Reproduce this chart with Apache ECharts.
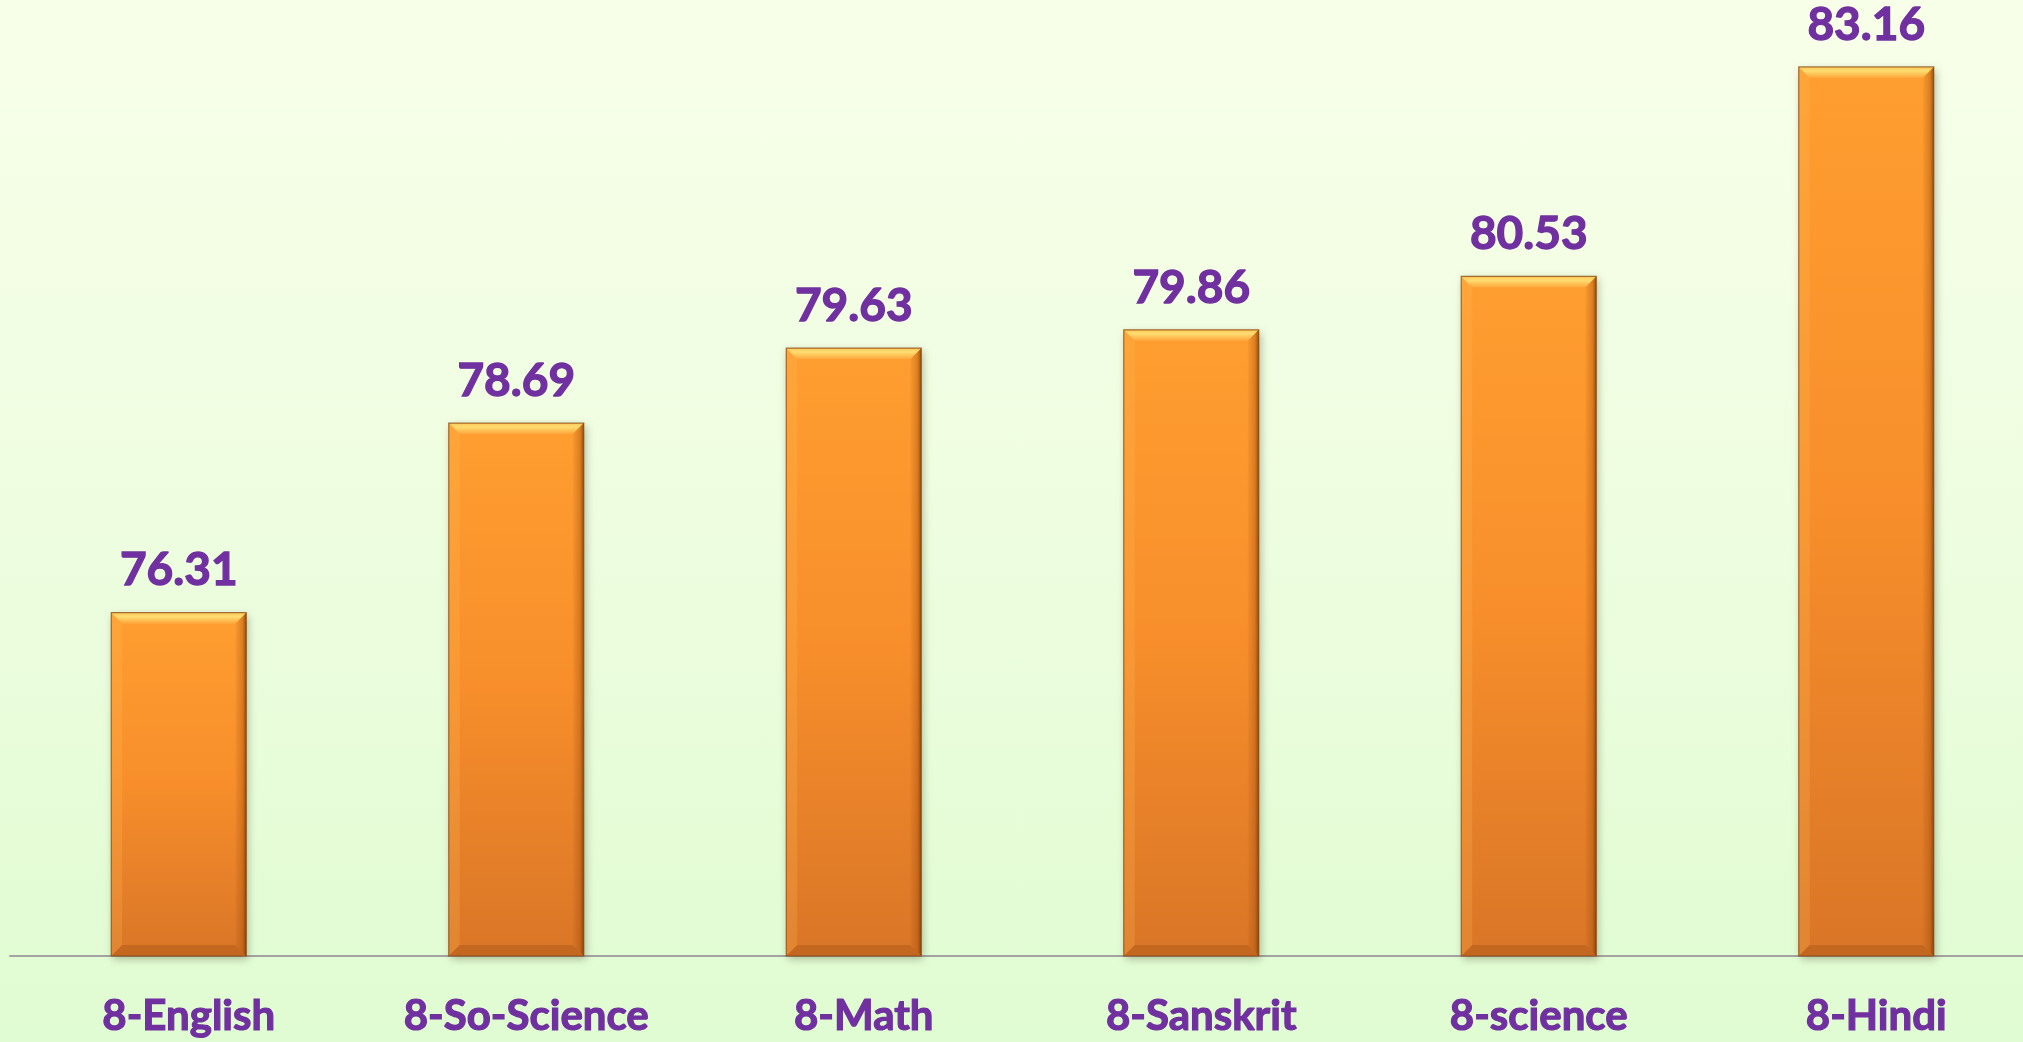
<!DOCTYPE html>
<html>
<head>
<meta charset="utf-8">
<script src="https://cdn.jsdelivr.net/npm/echarts@6/dist/echarts.min.js"></script>
<style>
html,body{margin:0;padding:0;width:2023px;height:1042px;overflow:hidden;
background:linear-gradient(to bottom,#F8FFE9 0%,#EEFDE0 50%,#E0FCD2 100%);}
#chart{width:2023px;height:1042px;}
</style>
</head>
<body>
<div id="chart"></div>
<script>
const categories = ['8-English', '8-So-Science', '8-Math', '8-Sanskrit', '8-science', '8-Hindi'];
const scores = [76.31, 78.69, 79.63, 79.86, 80.53, 83.16];
const yMin = 72;
const yMax = 84;

const chart = echarts.init(document.getElementById('chart'), null, {renderer: 'canvas'});
const purple = '#7030A0';
const font = 'Lato, "Open Sans", sans-serif';
const BAR_RATIO = 0.4;

function bevel(params, api) {
  const i = api.value(0);
  const top = api.coord([i, api.value(1)]);
  const base = api.coord([i, yMin]);
  const w = api.size([1, 0])[0] * BAR_RATIO;
  const x0 = top[0] - w / 2, x1 = top[0] + w / 2;
  const y0 = top[1], y1 = base[1];
  const b = 11;
  return {
    type: 'group',
    silent: true,
    children: [
      {type: 'polygon', shape: {points: [[x0, y0], [x1, y0], [x1 - b, y0 + b], [x0 + b, y0 + b]]},
        style: {fill: {type: 'linear', x: 0, y: 0, x2: 0, y2: 1, colorStops: [
          {offset: 0, color: '#FFC55A'}, {offset: 0.35, color: '#FFDD70'}, {offset: 1, color: '#FFA63C'}]}}},
      {type: 'polygon', shape: {points: [[x0, y0], [x0 + b, y0 + b], [x0 + b, y1 - b], [x0, y1]]},
        style: {fill: 'rgba(255,190,90,0.22)'}},
      {type: 'polygon', shape: {points: [[x1, y0], [x1 - b, y0 + b], [x1 - b, y1 - b], [x1, y1]]},
        style: {fill: {type: 'linear', x: 1, y: 0, x2: 0, y2: 0, colorStops: [
          {offset: 0, color: 'rgba(110,50,0,0.75)'}, {offset: 0.35, color: 'rgba(150,70,10,0.35)'}, {offset: 1, color: 'rgba(150,70,10,0.05)'}]}}},
      {type: 'polygon', shape: {points: [[x0, y1], [x0 + b, y1 - b], [x1 - b, y1 - b], [x1, y1]]},
        style: {fill: 'rgba(140,70,15,0.28)'}},
      {type: 'rect', shape: {x: x0, y: y0, width: w, height: y1 - y0},
        style: {fill: 'none', stroke: 'rgba(130,65,10,0.7)', lineWidth: 1.2}}
    ]
  };
}

chart.setOption({
  backgroundColor: 'transparent',
  animation: false,
  grid: {left: 10, width: 2025, top: 0, bottom: 86, containLabel: false, outerBoundsMode: 'none'},
  xAxis: {
    type: 'category',
    data: categories,
    axisLine: {show: true, lineStyle: {color: '#A3A3A3', width: 2}},
    axisTick: {show: false},
    axisLabel: {
      color: purple, fontFamily: font, fontWeight: 'bold', fontSize: 42,
      textBorderColor: purple, textBorderWidth: 1.2,
      margin: 39, padding: [0, 0, 0, 20]
    }
  },
  yAxis: {
    type: 'value', min: yMin, max: yMax,
    show: false, splitLine: {show: false}
  },
  series: [{
    type: 'bar',
    data: scores,
    barWidth: (BAR_RATIO * 100) + '%',
    z: 2,
    itemStyle: {
      color: {
        type: 'linear', x: 0, y: 0, x2: 0, y2: 1,
        colorStops: [
          {offset: 0, color: '#FF9E30'},
          {offset: 0.5, color: '#F78E2B'},
          {offset: 1, color: '#D97527'}
        ]
      },
      borderWidth: 0,
      shadowColor: 'rgba(60,60,30,0.35)',
      shadowBlur: 8,
      shadowOffsetX: 2,
      shadowOffsetY: 3
    },
    label: {
      show: true, position: 'top', distance: 19,
      color: purple, fontFamily: font, fontWeight: 'bold', fontSize: 46,
      textBorderColor: purple, textBorderWidth: 1.3,
      formatter: p => p.value.toFixed(2)
    }
  }, {
    type: 'custom',
    renderItem: bevel,
    data: scores.map((v, i) => [i, v]),
    z: 3,
    silent: true,
    tooltip: {show: false}
  }]
});
</script>
</body>
</html>
